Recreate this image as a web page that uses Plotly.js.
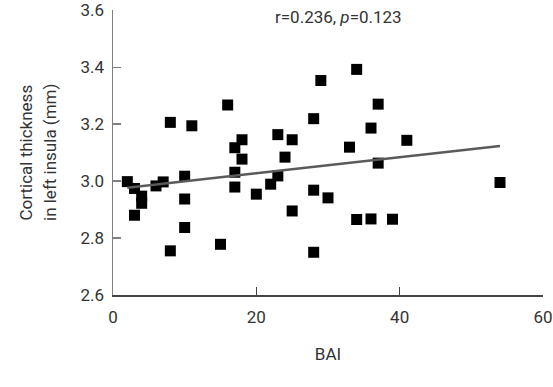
<!DOCTYPE html>
<html>
<head>
<meta charset="utf-8">
<script src="https://cdn.plot.ly/plotly-3.0.1.min.js"></script>
<style>
html,body{margin:0;padding:0;background:#fff;}
#chart{width:553px;height:387px;}
</style>
</head>
<body>
<div id="chart"></div>
<script>
// BAI scores (x) and cortical thickness in left insula, mm (y)
var bai = [2, 3, 4, 4, 3, 6, 7, 8, 8, 10, 10, 10, 11, 15, 16, 17, 17, 17, 18, 18, 20,
           22, 23, 23, 24, 25, 25, 28, 28, 28, 29, 30, 33, 34, 34, 36, 36, 37, 37, 39, 41, 54];
var thickness = [2.998, 2.974, 2.947, 2.922, 2.880, 2.983, 2.997, 3.206, 2.755, 3.017, 2.937,
                 2.837, 3.194, 2.778, 3.267, 3.117, 3.031, 2.979, 3.145, 3.077, 2.954,
                 2.989, 3.163, 3.018, 3.084, 3.145, 2.895, 3.219, 2.968, 2.750, 3.353,
                 2.941, 3.119, 3.392, 2.865, 3.186, 2.867, 3.270, 3.063, 2.866, 3.143, 2.995];
var xTicks = [0, 20, 40, 60];
var yTicks = [2.6, 2.8, 3.0, 3.2, 3.4, 3.6];
var yTickLabels = ['2.6', '2.8', '3.0', '3.2', '3.4', '3.6'];
var statText = 'r=0.236, <i>p</i>=0.123';
var xTitle = 'BAI';
var yTitleLines = ['Cortical thickness', 'in left insula (mm)'];

// least-squares fit line from the data
var n = bai.length, mx = 0, my = 0;
for (var i = 0; i < n; i++) { mx += bai[i]; my += thickness[i]; }
mx /= n; my /= n;
var sxy = 0, sxx = 0;
for (var i = 0; i < n; i++) { sxy += (bai[i] - mx) * (thickness[i] - my); sxx += (bai[i] - mx) * (bai[i] - mx); }
var slope = sxy / sxx, intercept = my - slope * mx;
var xmin = Math.min.apply(null, bai), xmax = Math.max.apply(null, bai);
var fitX = [xmin, xmax];
var fitY = fitX.map(function (v) { return intercept + slope * v; });

var font = "Roboto, 'Liberation Sans', Arial, sans-serif";
var txt = '#333333';

var traces = [
  {
    x: bai, y: thickness, type: 'scatter', mode: 'markers',
    marker: { symbol: 'square', size: 11, color: '#000000', line: { width: 0 } },
    hoverinfo: 'x+y'
  },
  {
    x: fitX, y: fitY, type: 'scatter', mode: 'lines',
    line: { color: '#5a5a5a', width: 2.5 },
    hoverinfo: 'skip'
  }
];

var W = 553, H = 387;
var mL = 113, mR = 10, mT = 10, mB = 92;
var plotW = W - mL - mR;
function paperX(px) { return (px - mL) / plotW; }

var annotations = [
  {
    text: statText, xref: 'x', yref: 'y', x: 31.5, y: 3.575,
    xanchor: 'center', yanchor: 'middle', showarrow: false,
    font: { family: font, size: 17, color: txt }
  }
];
var titleXs = [25, 49.5];
yTitleLines.forEach(function (t, k) {
  annotations.push({
    text: t, xref: 'paper', yref: 'paper', x: paperX(titleXs[k]), y: 0.5,
    xanchor: 'center', yanchor: 'middle', textangle: -90, showarrow: false,
    font: { family: font, size: 17, color: txt }
  });
});

var layout = {
  width: W, height: H,
  margin: { l: mL, r: mR, t: mT, b: mB, pad: 0 },
  paper_bgcolor: '#ffffff', plot_bgcolor: '#ffffff',
  showlegend: false,
  font: { family: font, size: 17, color: txt },
  xaxis: {
    range: [0, 60], tickvals: xTicks, ticktext: xTicks.map(String),
    showgrid: false, zeroline: false,
    showline: true, linecolor: '#444444', linewidth: 1.5,
    ticks: 'inside', ticklen: 8, tickwidth: 1.2, tickcolor: '#444444',
    ticklabelstandoff: 6,
    tickfont: { family: font, size: 17, color: txt },
    title: { text: xTitle, font: { family: font, size: 17, color: txt }, standoff: 22 },
    automargin: false
  },
  yaxis: {
    range: [2.6, 3.6005], tickvals: yTicks, ticktext: yTickLabels,
    showgrid: false, zeroline: false,
    showline: true, linecolor: '#808080', linewidth: 1.5,
    ticks: 'inside', ticklen: 8, tickwidth: 1.2, tickcolor: '#808080',
    ticklabelstandoff: 4,
    tickfont: { family: font, size: 17, color: txt },
    automargin: false
  },
  annotations: annotations
};

Plotly.newPlot('chart', traces, layout, { displayModeBar: false, staticPlot: true });
</script>
</body>
</html>
